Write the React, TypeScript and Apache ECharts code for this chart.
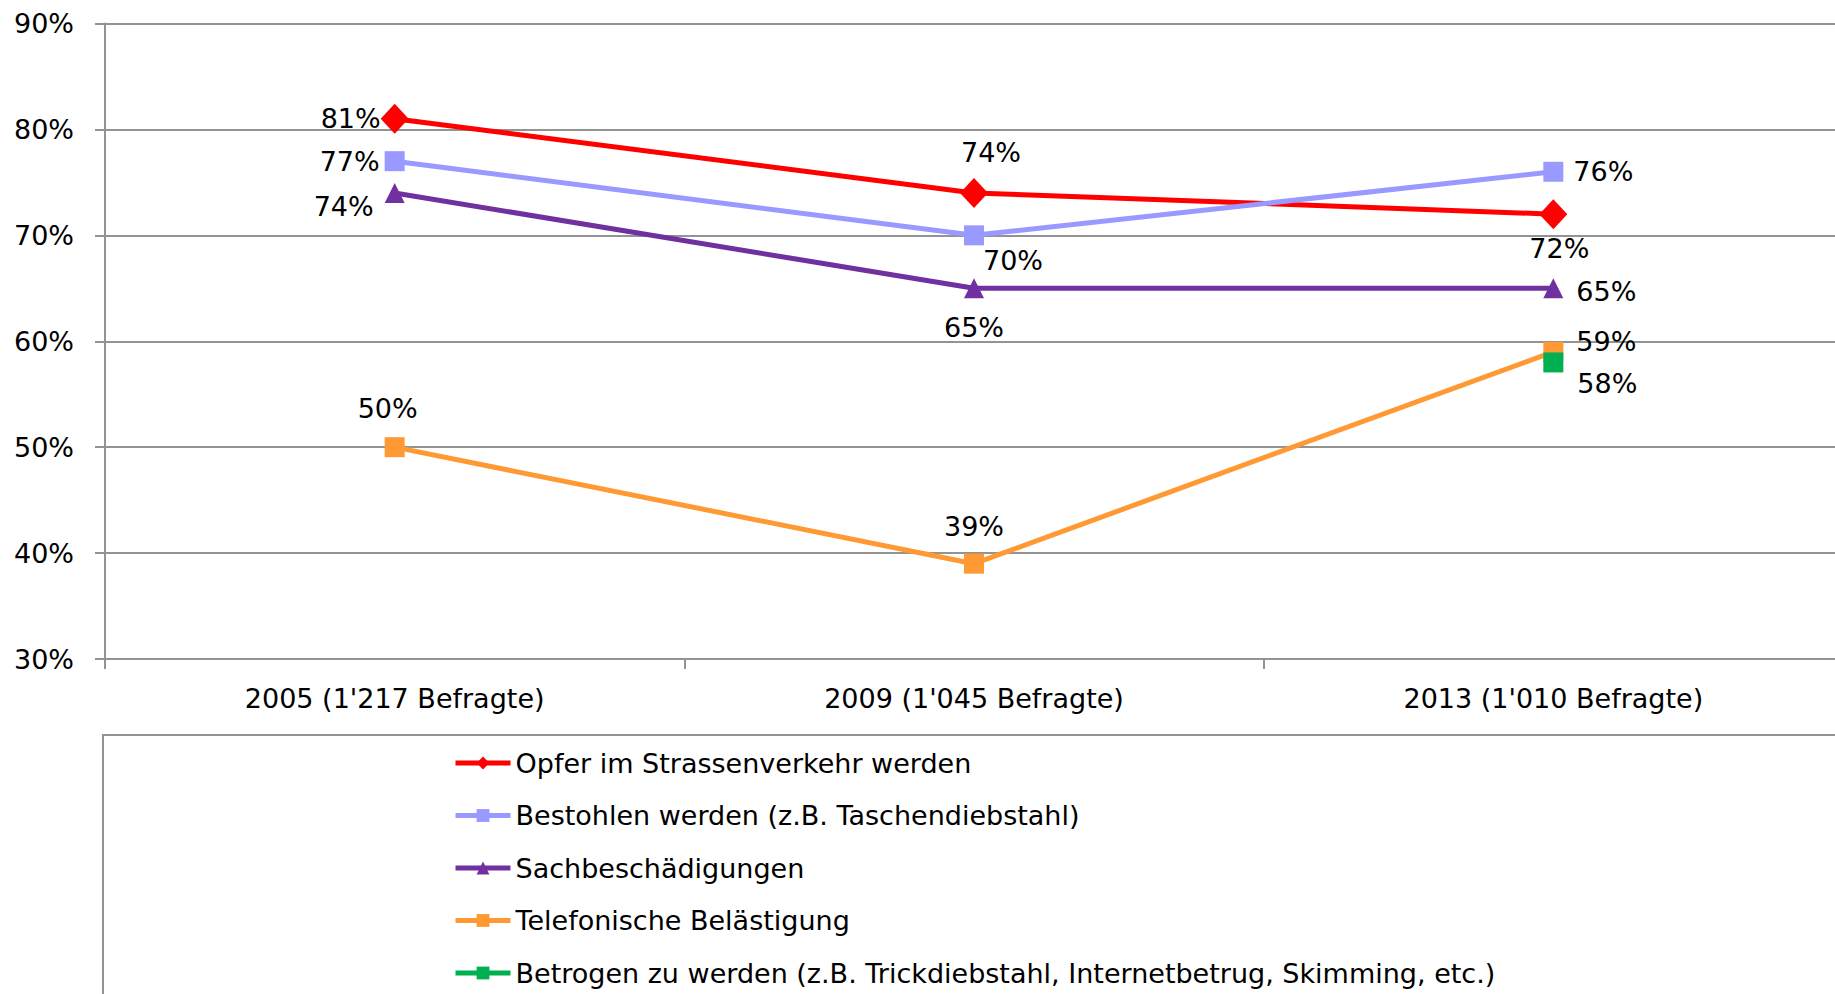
import React, { useEffect, useRef } from "react";
import * as echarts from "echarts";

const categories = ["2005 (1'217 Befragte)", "2009 (1'045 Befragte)", "2013 (1'010 Befragte)"];
const seriesNames = [
  "Opfer im Strassenverkehr werden",
  "Bestohlen werden (z.B. Taschendiebstahl)",
  "Sachbeschädigungen",
  "Telefonische Belästigung",
  "Betrogen zu werden (z.B. Trickdiebstahl, Internetbetrug, Skimming, etc.)",
];
const opfer = [81, 74, 72];
const bestohlen = [77, 70, 76];
const sach = [74, 65, 65];
const telefon = [50, 39, 59];
const betrogen = [null, null, 58];
const yTicks = { min: 30, max: 90, interval: 10 };

const FONT = "DejaVu Sans";
const GRID_COLOR = "#939393";

type Lbl = { position: string; distance: number; offset?: number[] } | null;

function buildData(values: (number | null)[], labels: Lbl[]) {
  return values.map((v, i) => {
    if (v === null) return null;
    const l = labels[i];
    return {
      value: v,
      label: l
        ? { show: true, position: l.position, distance: l.distance, offset: l.offset || [0, 0] }
        : { show: false },
    };
  });
}

export default function App() {
  const ref = useRef<HTMLDivElement>(null);
  useEffect(() => {
    if (!ref.current) return;
    const chart = echarts.init(ref.current, undefined, { renderer: "svg" });
    const labelStyle = {
      show: true,
      color: "#000",
      fontFamily: FONT,
      fontSize: 27,
      formatter: "{c}%",
    };
    const mkSeries = (
      name: string,
      values: (number | null)[],
      color: string,
      symbol: string,
      symbolSize: any,
      labels: Lbl[]
    ) => ({
      type: "line",
      name,
      data: buildData(values, labels),
      symbol,
      symbolSize,
      showAllSymbol: true,
      lineStyle: { color, width: 5 },
      itemStyle: { color, borderWidth: 0 },
      label: labelStyle,
      emphasis: { disabled: true },
    });
    chart.setOption({
      animation: false,
      grid: { left: 105, top: 23.5, width: 1738, height: 635.5, outerBoundsMode: "none", containLabel: false },
      xAxis: {
        type: "category",
        data: categories,
        boundaryGap: true,
        axisLine: { show: true, lineStyle: { color: GRID_COLOR, width: 2 } },
        axisTick: { show: true, length: 10, interval: 0, lineStyle: { color: GRID_COLOR, width: 2 } },
        axisLabel: { color: "#000", fontFamily: FONT, fontSize: 27, margin: 26, interval: 0 },
      },
      yAxis: {
        type: "value",
        min: yTicks.min,
        max: yTicks.max,
        interval: yTicks.interval,
        axisLine: { show: true, lineStyle: { color: GRID_COLOR, width: 2 } },
        axisTick: { show: true, length: 10, lineStyle: { color: GRID_COLOR, width: 2 } },
        splitLine: { show: true, lineStyle: { color: GRID_COLOR, width: 2 } },
        axisLabel: { color: "#000", fontFamily: FONT, fontSize: 27, margin: 31, formatter: "{value}%" },
      },
      legend: {
        orient: "vertical",
        left: 453,
        top: 748,
        height: 400,
        padding: 0,
        itemWidth: 55,
        itemHeight: 16,
        itemGap: 22.5,
        lineStyle: { width: 5 },
        textStyle: { color: "#000", fontFamily: FONT, fontSize: 27, lineHeight: 30 },
        data: seriesNames,
      },
      graphic: [
        {
          type: "rect",
          shape: { x: 103, y: 735, width: 2000, height: 600 },
          style: { fill: "none", stroke: GRID_COLOR, lineWidth: 2 },
          silent: true,
        },
      ],
      series: [
        mkSeries(seriesNames[0], opfer, "#FF0000", "diamond", [28, 30], [
          { position: "left", distance: 0 },
          { position: "top", distance: 12, offset: [17, 0] },
          { position: "bottom", distance: 6, offset: [6, 0] },
        ]),
        mkSeries(seriesNames[1], bestohlen, "#9999FF", "rect", 20, [
          { position: "left", distance: 5 },
          { position: "bottom", distance: 2, offset: [39, 0] },
          { position: "right", distance: 10 },
        ]),
        mkSeries(seriesNames[2], sach, "#7030A0", "triangle", 20, [
          { position: "left", distance: 11, offset: [0, 14] },
          { position: "bottom", distance: 16 },
          { position: "right", distance: 13, offset: [0, 3] },
        ]),
        mkSeries(seriesNames[3], telefon, "#FF9933", "rect", 20, [
          { position: "top", distance: 15, offset: [-7, 0] },
          { position: "top", distance: 14 },
          { position: "right", distance: 13, offset: [0, -10] },
        ]),
        mkSeries(seriesNames[4], betrogen, "#00B050", "rect", 20, [
          null,
          null,
          { position: "right", distance: 14, offset: [0, 21] },
        ]),
      ],
    });
    return () => chart.dispose();
  }, []);
  return (
    <div
      ref={ref}
      style={{ position: "absolute", left: 0, top: 0, width: 1835, height: 994, background: "#fff" }}
    />
  );
}
